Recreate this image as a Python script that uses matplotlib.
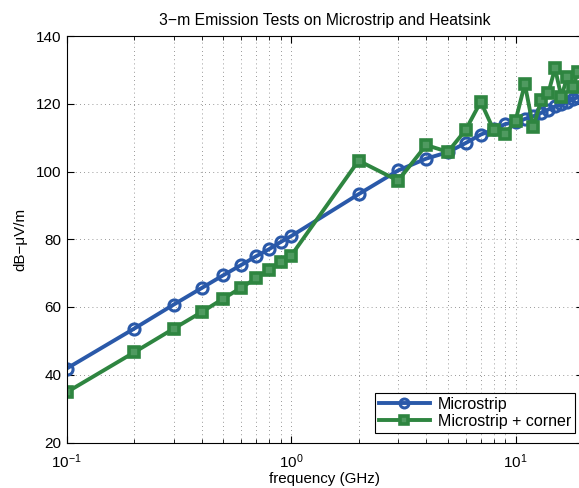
import numpy as np
import matplotlib
matplotlib.use('Agg')
import matplotlib.pyplot as plt
from matplotlib.ticker import LogLocator, NullFormatter

plt.rcParams['font.family'] = ['Liberation Sans', 'DejaVu Sans']
plt.rcParams['mathtext.fontset'] = 'custom'
plt.rcParams['mathtext.rm'] = 'Liberation Sans'

# frequency points in GHz
freqs = [0.1, 0.2, 0.3, 0.4, 0.5, 0.6, 0.7, 0.8, 0.9, 1.0,
         2, 3, 4, 5, 6, 7, 8, 9, 10, 11, 12, 13, 14, 15, 16, 17, 18, 19]

microstrip = [41.8, 53.6, 60.7, 65.6, 69.4, 72.4, 75.0, 77.1, 79.2, 80.9,
              93.3, 100.3, 103.8, 105.7, 108.4, 110.9, 112.4, 114.0, 114.6,
              115.5, 116.3, 117.3, 118.3, 119.2, 119.8, 120.5, 121.3, 122.0]

corner = [34.8, 46.6, 53.6, 58.5, 62.5, 65.7, 68.5, 71.0, 73.2, 75.1,
          103.2, 97.3, 107.8, 105.8, 112.3, 120.6, 112.2, 111.0, 115.0,
          125.8, 113.0, 121.0, 123.2, 130.5, 122.0, 128.0, 125.0, 129.4]

blue = '#2a59a9'
green = '#2e8540'

fig = plt.figure(figsize=(5.79, 4.88), dpi=100)
ax = fig.add_axes([66.5/579, 45.5/488, 516.6/579, 406.5/488])

ax.plot(freqs, microstrip, '-o', color=blue, linewidth=2.8, markersize=8,
        markerfacecolor='none', markeredgewidth=2.2, label='Microstrip')
ax.plot(freqs, corner, '-s', color=green, linewidth=2.8, markersize=6.5,
        markerfacecolor='#4f9a60', markeredgewidth=2.6, label='Microstrip + corner')

ax.set_xscale('log')
ax.set_xlim(0.1, 20)
ax.set_ylim(20, 140)
ax.set_yticks(np.arange(20, 141, 20))
ax.xaxis.set_major_locator(LogLocator(base=10))
ax.xaxis.set_minor_locator(LogLocator(base=10, subs=np.arange(2, 10)))
ax.xaxis.set_minor_formatter(NullFormatter())

ax.tick_params(which='both', direction='in', top=True, right=True, labelsize=11)
ax.tick_params(which='major', length=5)
ax.tick_params(which='minor', length=3)
ax.tick_params(axis='x', which='major', pad=7)
ax.grid(True, which='major', axis='both', linestyle=(0, (1, 4)), color='#777777', linewidth=0.6)
ax.grid(True, which='minor', axis='x', linestyle=(0, (1, 4)), color='#777777', linewidth=0.6)
ax.set_axisbelow(True)

ax.set_title('3\u2212m Emission Tests on Microstrip and Heatsink', fontsize=11.3, pad=8)
ax.set_xlabel('frequency (GHz)', fontsize=10.9, labelpad=1)
ax.set_ylabel('dB\u2212\u03bcV/m', fontsize=10.9, labelpad=6)

leg = ax.legend(loc='lower right', bbox_to_anchor=(575/579, 55/488),
                bbox_transform=fig.transFigure, borderaxespad=0,
                fancybox=False, edgecolor='black', framealpha=1,
                fontsize=11.5, handlelength=3.2, borderpad=0.25, labelspacing=0.15,
                handletextpad=0.5, markerscale=0.8)
leg.get_frame().set_linewidth(0.8)

fig.savefig('out.png', dpi=100)
